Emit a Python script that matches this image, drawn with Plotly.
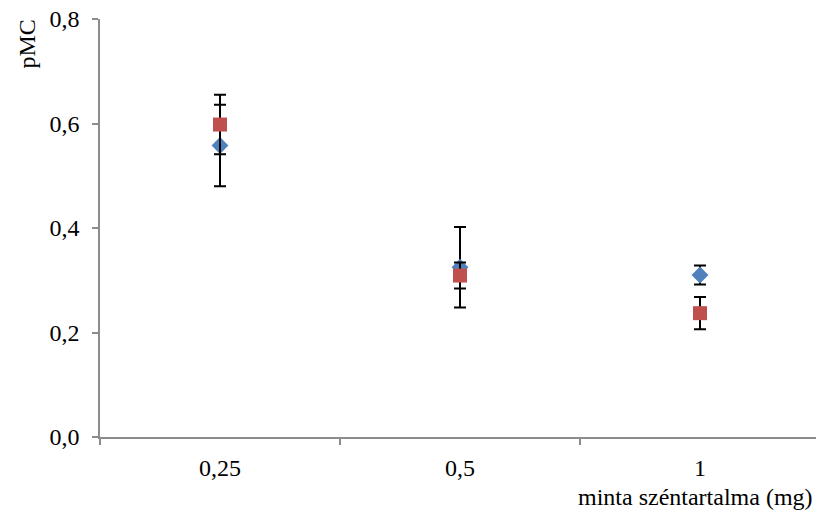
import plotly.graph_objects as go

# Sample carbon content categories (mg)
categories = ["0,25", "0,5", "1"]

# Series A (blue diamonds): pMC values and symmetric errors
series_a = [0.558, 0.325, 0.310]
series_a_err = [0.078, 0.077, 0.018]

# Series B (red squares): pMC values and symmetric errors
series_b = [0.598, 0.309, 0.237]
series_b_err = [0.057, 0.025, 0.031]

y_ticks = [0.0, 0.2, 0.4, 0.6, 0.8]

FONT = "Liberation Serif"
FSIZE = 24
AXIS_GREY = "#8c8c8c"

fig = go.Figure()

fig.add_trace(go.Scatter(
    x=categories, y=series_a, mode="markers",
    marker=dict(symbol="diamond", size=13, color="#4F81BD",
                line=dict(width=0)),
    error_y=dict(type="data", array=series_a_err, visible=True,
                 color="black", thickness=2, width=6),
    showlegend=False,
))

fig.add_trace(go.Scatter(
    x=categories, y=series_b, mode="markers",
    marker=dict(symbol="square", size=14, color="#C0504D",
                line=dict(width=0)),
    error_y=dict(type="data", array=series_b_err, visible=True,
                 color="black", thickness=2, width=6),
    showlegend=False,
))

plot_w = 716
fig.update_layout(
    width=816, height=511,
    margin=dict(l=100, r=0, t=19, b=74),
    paper_bgcolor="white", plot_bgcolor="white",
    separators=", ",
    font=dict(family=FONT, size=FSIZE, color="black"),
    xaxis=dict(
        type="category",
        range=[-0.5, -0.5 + plot_w / 240.0],
        showgrid=False, zeroline=False,
        showline=True, linecolor=AXIS_GREY, linewidth=1.5,
        ticks="outside", tickson="boundaries", ticklen=6,
        tickcolor=AXIS_GREY, tickwidth=1.5,
        tickfont=dict(family=FONT, size=FSIZE),
        ticklabelstandoff=8,
    ),
    yaxis=dict(
        range=[0, 0.8],
        tickvals=y_ticks, tickformat=".1f",
        showgrid=False, zeroline=False,
        showline=True, linecolor=AXIS_GREY, linewidth=1.5,
        ticks="outside", ticklen=6,
        tickcolor=AXIS_GREY, tickwidth=1.5,
        tickfont=dict(family=FONT, size=FSIZE),
        ticklabelstandoff=8,
    ),
    annotations=[
        dict(text="pMC", xref="paper", yref="paper",
             x=0, y=1.0, xanchor="center", yanchor="top",
             xshift=-74, yshift=1, textangle=-90, showarrow=False,
             font=dict(family=FONT, size=FSIZE)),
        dict(text="minta széntartalma (mg)", xref="paper", yref="paper",
             x=1.0, y=0, xanchor="right", yanchor="middle",
             xshift=-1, yshift=-60, showarrow=False,
             font=dict(family=FONT, size=FSIZE)),
    ],
)

fig.write_html("out.html")
